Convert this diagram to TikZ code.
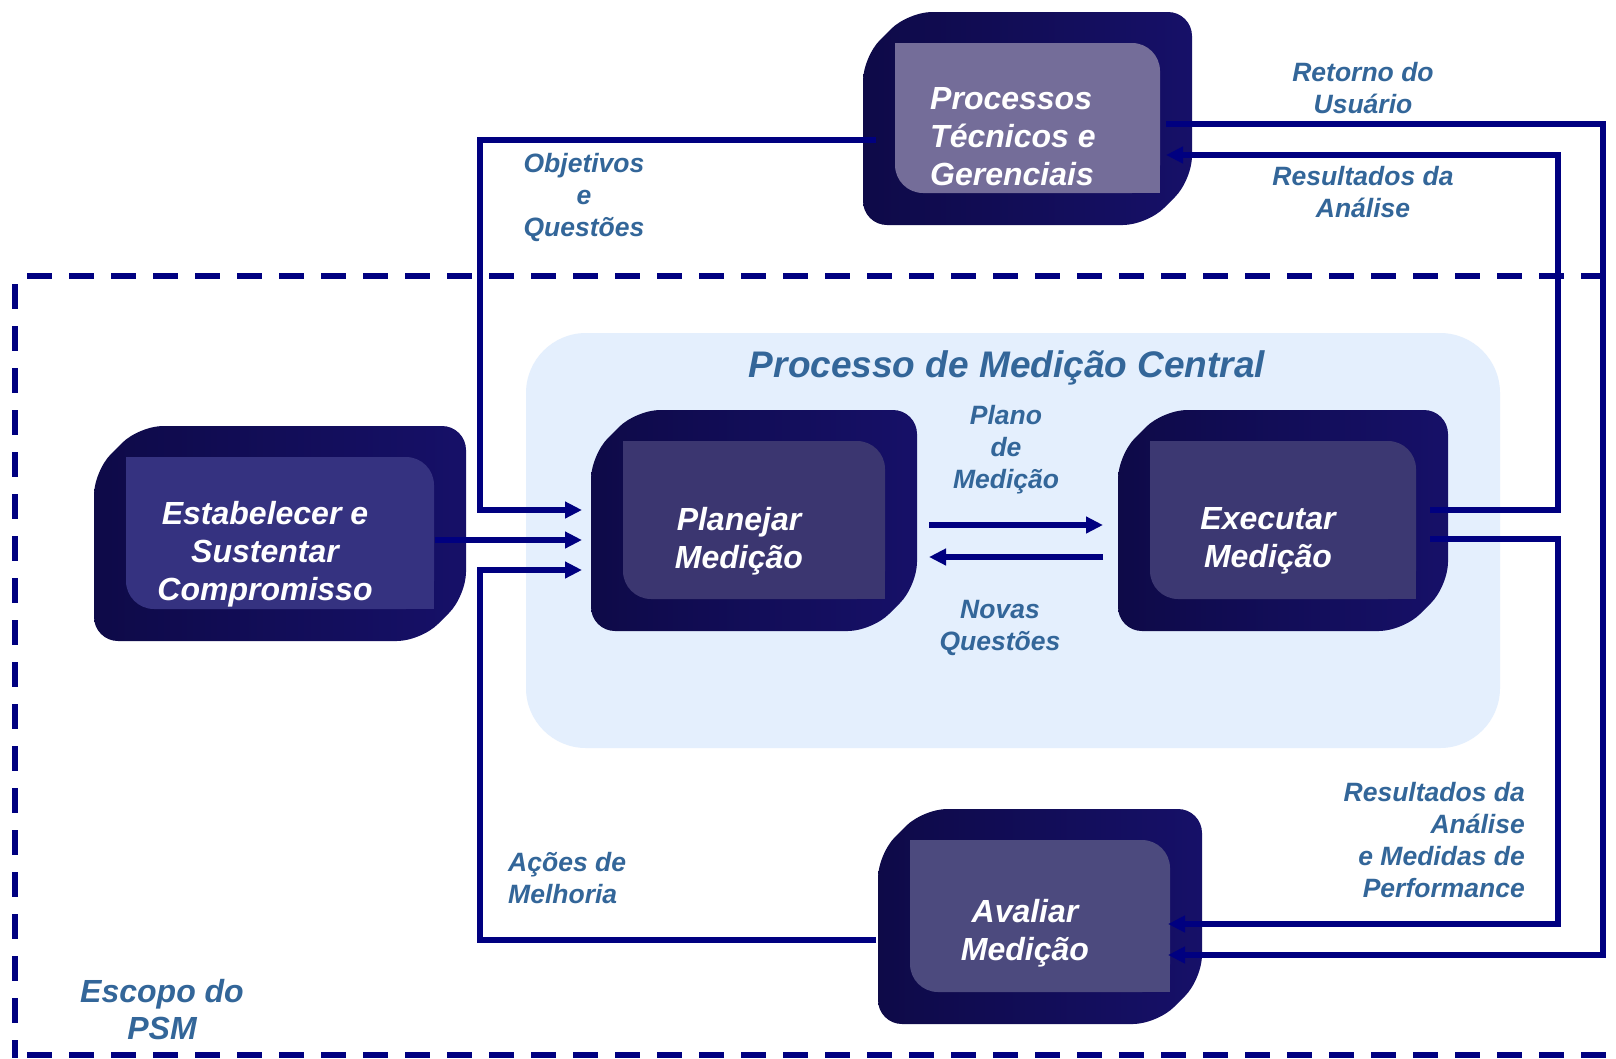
\documentclass[tikz,border=0pt]{standalone}
\usepackage{fontspec}
\setmainfont{Liberation Sans}
\usetikzlibrary{arrows.meta,calc}
\definecolor{navy}{RGB}{0,0,128}
\definecolor{lbl}{RGB}{51,102,153}
\definecolor{bgblue}{RGB}{228,239,253}
\definecolor{bxa}{RGB}{14,10,72}
\definecolor{bxb}{RGB}{11,8,62}
\definecolor{bxc}{RGB}{22,16,104}
\definecolor{fproc}{RGB}{116,109,153}
\definecolor{fest}{RGB}{53,50,128}
\definecolor{fplan}{RGB}{59,54,112}
\definecolor{fexec}{RGB}{60,56,114}
\definecolor{faval}{RGB}{76,74,126}
\newcommand\tdbox[5]{%
 \shade[rounded corners=24pt, left color=bxa, middle color=bxb, right color=bxc]
   (#1+45,#2) -- (#3,#2) -- (#3,#4-45) -- (#3-45,#4) -- (#1,#4) -- (#1,#2+45) -- cycle;
 \fill[#5, rounded corners=28pt] (#1+32,#2+31) rectangle (#3-32,#4-32);
 \fill[#5] (#1+32,#2+31) rectangle (#1+90,#2+90);
 \fill[#5] (#3-90,#4-90) rectangle (#3-32,#4-32);
}
\begin{document}
\begin{tikzpicture}[x=1pt,y=-1pt,
 conn/.style={draw=navy, line width=6pt},
 arr/.style={conn, -{Triangle[length=17pt,width=16pt]}},
 port/.style={draw=none, inner sep=0pt, outer sep=0pt, rectangle},
 boxtext/.style={text=white, font=\fontsize{32}{38}\selectfont\bfseries\itshape, align=center, inner sep=0pt},
 lbltext/.style={text=lbl, font=\fontsize{26.5}{32}\selectfont\bfseries\itshape, align=center, inner sep=0pt},
 scopedash/.style={draw=navy, line width=6pt, dash pattern=on 25pt off 17pt}
 ]
\useasboundingbox (0,0) rectangle (1616,1058);
\fill[white] (0,0) rectangle (1616,1058);
% central process region
\fill[bgblue, rounded corners=60pt] (526,333) rectangle (1500,748);
\node[text=lbl, font=\fontsize{37}{44}\selectfont\bfseries\itshape, inner sep=0pt] (title) at (1007,368) {Processo de Medição Central};
% scope boundary
\begin{scope}
\clip (0,0) rectangle (1616,1058);
\draw[scopedash] (27,276) -- (1616,276);
\draw[scopedash] (14.5,284) -- (14.5,1058);
\draw[scopedash] (27,1055) -- (1616,1055);
\end{scope}
% boxes
\tdbox{863}{12}{1192}{225}{fproc}
\tdbox{94}{426}{466}{641}{fest}
\tdbox{591}{410}{917}{631}{fplan}
\tdbox{1118}{410}{1448}{631}{fexec}
\tdbox{878}{809}{1202}{1024}{faval}
% port nodes
\node[port, minimum width=290pt, minimum height=213pt] (proc) at (1021,118.5) {};
\node[port, minimum width=341pt, minimum height=215pt] (est) at (264.5,540) {};
\node[port, minimum width=347pt, minimum height=221pt] (plan) at (755.5,520.5) {};
\node[port, minimum width=327pt, minimum height=221pt] (exec) at (1266.5,520.5) {};
\node[port, minimum width=292pt, minimum height=215pt] (aval) at (1022,916.5) {};
% box texts
\node[boxtext, align=left, anchor=west] (tproc) at (930,137) {Processos\\Técnicos e\\Gerenciais};
\node[boxtext] (test) at (265,554) {Estabelecer e\\Sustentar\\Compromisso};
\node[boxtext] (tplan) at (739,541) {Planejar\\Medição};
\node[boxtext] (texec) at (1268,541) {Executar\\Medição};
\node[boxtext] (taval) at (1025,933) {Avaliar\\Medição};
% connectors
\draw[arr] (proc.west |- 0,140) -- (480,140) -- (480,510) -- (plan.west |- 0,510);
\draw[arr] (est.east) -- (plan.west |- est.east);
\draw[arr] (aval.west |- 0,940) -- (480,940) -- (480,570) -- (plan.west |- 0,570);
\draw[arr] (plan.east |- 0,525) -- (exec.west |- 0,525);
\draw[arr] (exec.west |- 0,557) -- (plan.east |- 0,557);
\draw[arr] (exec.east |- 0,510) -- (1558,510) -- (1558,155) -- (proc.east |- 0,155);
\draw[arr] (proc.east |- 0,124) -- (1603,124) -- (1603,955) -- (aval.east |- 0,955);
\draw[arr] (exec.east |- 0,539) -- (1558,539) -- (1558,924) -- (aval.east |- 0,924);
% labels
\node[lbltext] (lobj) at (584,197) {Objetivos\\e\\Questões};
\node[lbltext] (lret) at (1363,88) {Retorno do\\Usuário};
\node[lbltext] (lres1) at (1363,192) {Resultados da\\Análise};
\node[lbltext] (lplano) at (1006,450) {Plano\\de\\Medição};
\node[lbltext] (lnovas) at (1000,628) {Novas\\Questões};
\node[lbltext, align=right, anchor=east] (lres2) at (1525,840) {Resultados da\\Análise\\e Medidas de\\Performance};
\node[lbltext, align=left, anchor=west] (lacoes) at (508,878) {Ações de\\Melhoria};
\node[text=lbl, font=\fontsize{32}{37}\selectfont\bfseries\itshape, align=center, inner sep=0pt] (lscope) at (162,1010) {Escopo do\\PSM};
\end{tikzpicture}
\end{document}
